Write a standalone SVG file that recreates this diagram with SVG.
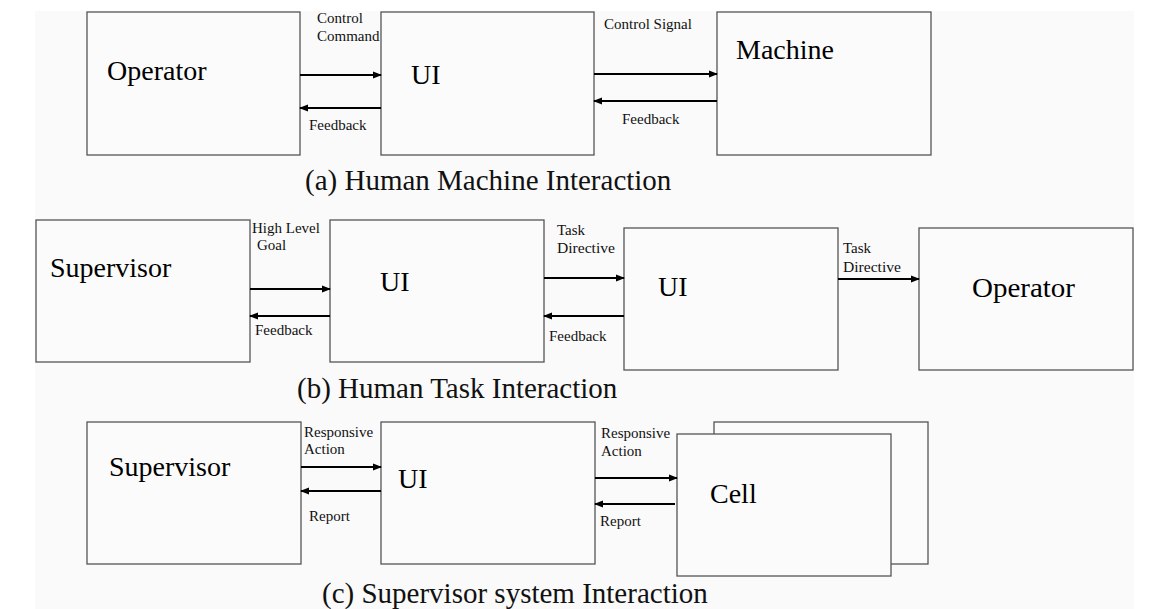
<svg xmlns="http://www.w3.org/2000/svg" width="1159" height="609" viewBox="0 0 1159 609">
<defs>
<marker id="ah" markerUnits="userSpaceOnUse" markerWidth="9" markerHeight="8" refX="8" refY="4" orient="auto">
<path d="M0,0.5 L9,4 L0,7.5 z" fill="#000"/>
</marker>
</defs>
<rect x="0" y="0" width="1159" height="609" fill="#fff"/>
<rect x="35" y="11" width="1099" height="598" fill="#fafafa"/>
<g fill="#fbfbfb" stroke="#555" stroke-width="1.3">
<rect id="a-operator-box" x="87" y="12" width="213" height="143"/>
<rect id="a-ui-box" x="381" y="12" width="213" height="143"/>
<rect id="a-machine-box" x="717" y="12" width="214" height="143"/>
<rect id="b-supervisor-box" x="36" y="220" width="214" height="142"/>
<rect id="b-ui1-box" x="330" y="220" width="214" height="142"/>
<rect id="b-ui2-box" x="624" y="228" width="214" height="142"/>
<rect id="b-operator-box" x="919" y="228" width="214" height="142"/>
<rect id="c-supervisor-box" x="87" y="422" width="214" height="142"/>
<rect id="c-ui-box" x="381" y="422" width="214" height="142"/>
<rect id="c-cell-back" x="714" y="422" width="214" height="142"/>
<rect id="c-cell-box" x="677" y="434" width="214" height="142"/>
</g>
<g id="nodes" fill="#000">
<text id="a-operator" font-family="Liberation Serif" font-size="28" x="107" y="80">Operator</text>
<text id="a-ui" font-family="Liberation Serif" font-size="28" x="411" y="84">UI</text>
<text id="a-machine" font-family="Liberation Serif" font-size="28" x="736" y="59">Machine</text>
<text id="b-supervisor" font-family="Liberation Serif" font-size="28" x="50" y="277">Supervisor</text>
<text id="b-ui1" font-family="Liberation Serif" font-size="28" x="380" y="291">UI</text>
<text id="b-ui2" font-family="Liberation Serif" font-size="28" x="658" y="296">UI</text>
<text id="b-operator" font-family="Liberation Serif" font-size="28" x="972" y="297" textLength="103" lengthAdjust="spacingAndGlyphs">Operator</text>
<text id="c-supervisor" font-family="Liberation Serif" font-size="28" x="109" y="476">Supervisor</text>
<text id="c-ui" font-family="Liberation Serif" font-size="28" x="398" y="488">UI</text>
<text id="c-cell" font-family="Liberation Serif" font-size="28" x="710" y="503">Cell</text>
</g>
<g id="captions" fill="#111">
<text font-family="Liberation Serif" font-size="29" x="305" y="190">(a) Human Machine Interaction</text>
<text font-family="Liberation Serif" font-size="29" x="297" y="398">(b) Human Task Interaction</text>
<text font-family="Liberation Serif" font-size="29" x="322" y="603">(c) Supervisor system Interaction</text>
</g>
<g id="connectors" stroke="#000" stroke-width="2" fill="none">
<line marker-end="url(#ah)" x1="300" y1="75" x2="381" y2="75"/>
<line marker-end="url(#ah)" x1="381" y1="108" x2="300" y2="108"/>
<line marker-end="url(#ah)" x1="594" y1="74" x2="717" y2="74"/>
<line marker-end="url(#ah)" x1="717" y1="101" x2="594" y2="101"/>
<line marker-end="url(#ah)" x1="250" y1="289" x2="330" y2="289"/>
<line marker-end="url(#ah)" x1="330" y1="316" x2="250" y2="316"/>
<line marker-end="url(#ah)" x1="544" y1="278" x2="624" y2="278"/>
<line marker-end="url(#ah)" x1="624" y1="316" x2="544" y2="316"/>
<line marker-end="url(#ah)" x1="838" y1="279" x2="919" y2="279"/>
<line marker-end="url(#ah)" x1="301" y1="467" x2="381" y2="467"/>
<line marker-end="url(#ah)" x1="381" y1="491" x2="301" y2="491"/>
<line marker-end="url(#ah)" x1="595" y1="478" x2="677" y2="478"/>
<line marker-end="url(#ah)" x1="675" y1="504" x2="595" y2="504"/>
</g>
<g id="labels" fill="#111">
<text font-family="Liberation Serif" font-size="15" x="317" y="23">Control</text>
<text font-family="Liberation Serif" font-size="15" x="317" y="41">Command</text>
<text font-family="Liberation Serif" font-size="15" x="309" y="130">Feedback</text>
<text font-family="Liberation Serif" font-size="15" x="604" y="29">Control Signal</text>
<text font-family="Liberation Serif" font-size="15" x="622" y="124">Feedback</text>
<text font-family="Liberation Serif" font-size="15" x="252" y="233">High Level</text>
<text font-family="Liberation Serif" font-size="15" x="257" y="250">Goal</text>
<text font-family="Liberation Serif" font-size="15" x="255" y="335">Feedback</text>
<text font-family="Liberation Serif" font-size="15" x="557" y="235">Task</text>
<text font-family="Liberation Serif" font-size="15" x="557" y="253" textLength="58" lengthAdjust="spacingAndGlyphs">Directive</text>
<text font-family="Liberation Serif" font-size="15" x="549" y="341">Feedback</text>
<text font-family="Liberation Serif" font-size="15" x="843" y="253">Task</text>
<text font-family="Liberation Serif" font-size="15" x="843" y="272" textLength="58" lengthAdjust="spacingAndGlyphs">Directive</text>
<text font-family="Liberation Serif" font-size="15" x="304" y="437">Responsive</text>
<text font-family="Liberation Serif" font-size="15" x="304" y="454">Action</text>
<text font-family="Liberation Serif" font-size="15" x="309" y="521">Report</text>
<text font-family="Liberation Serif" font-size="15" x="601" y="438">Responsive</text>
<text font-family="Liberation Serif" font-size="15" x="601" y="456">Action</text>
<text font-family="Liberation Serif" font-size="15" x="600" y="526">Report</text>
</g>
</svg>
